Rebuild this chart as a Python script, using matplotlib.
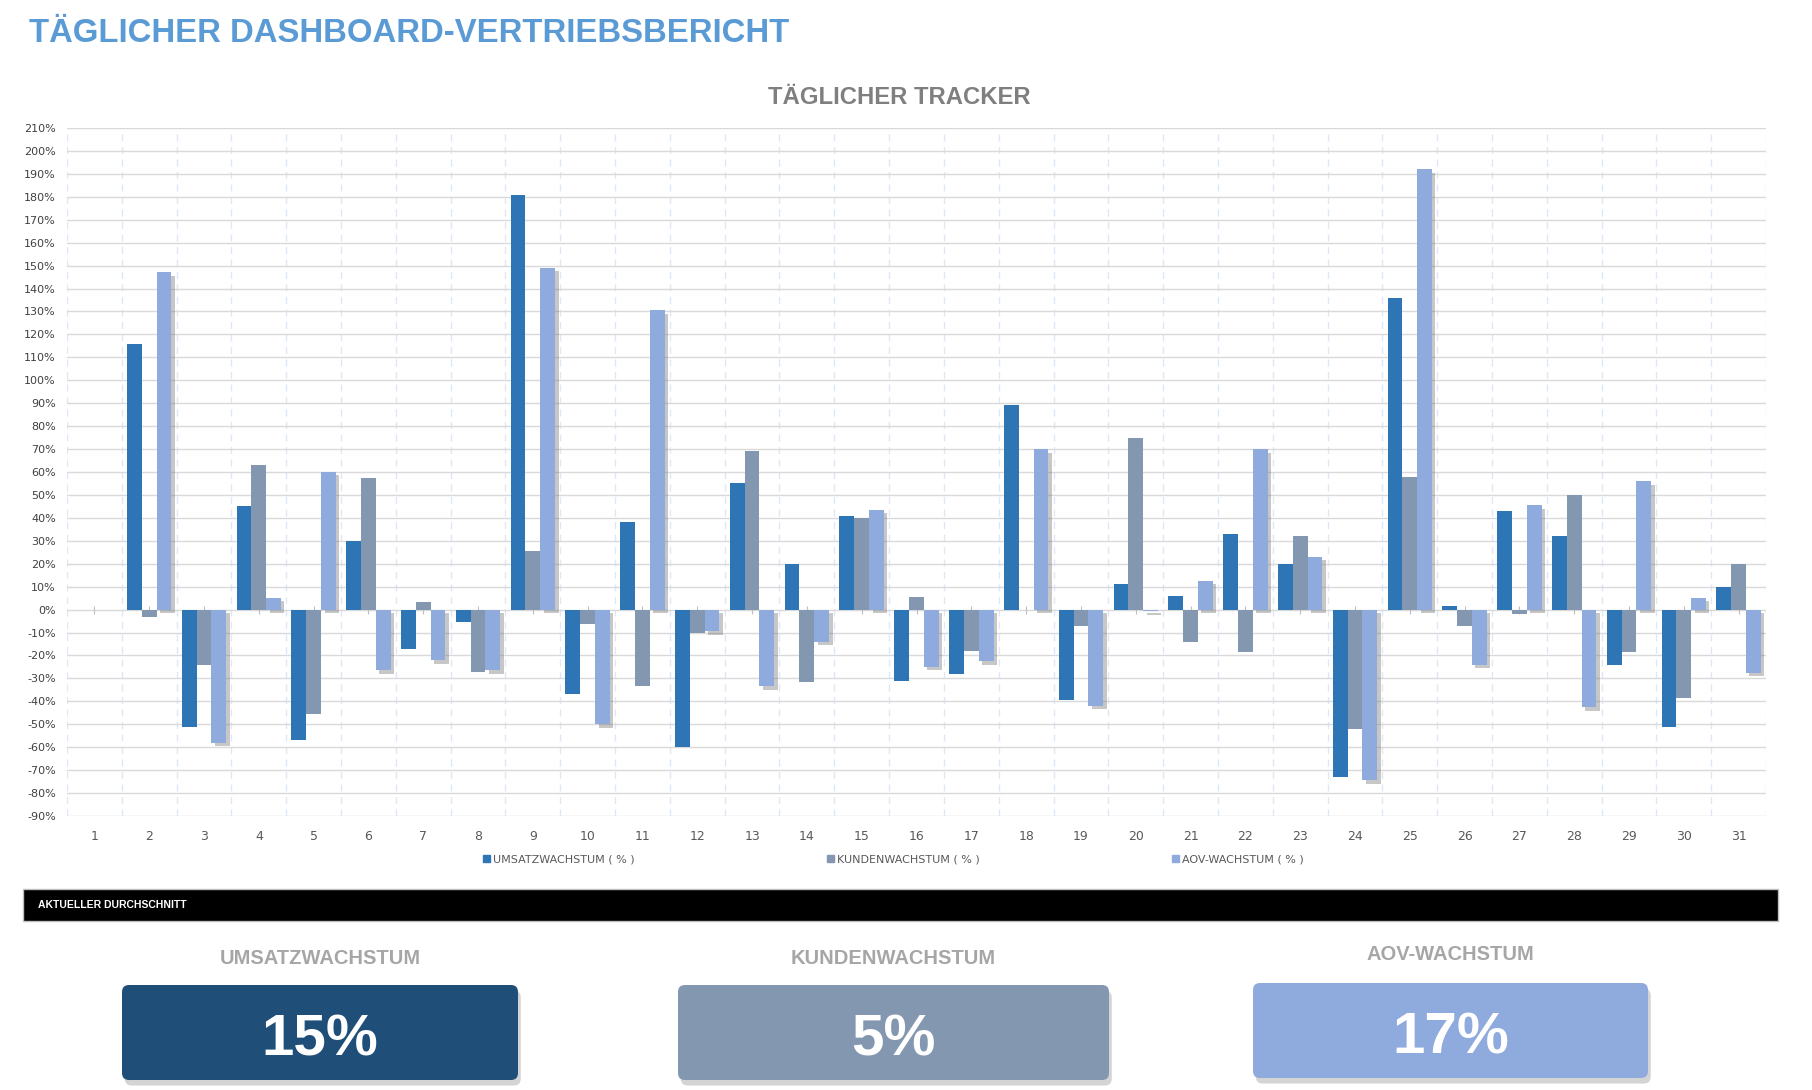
import matplotlib
matplotlib.use("Agg")
import matplotlib.pyplot as plt
from matplotlib.patches import Patch, FancyBboxPatch, Rectangle
from matplotlib import patheffects as pe
import numpy as np

# ---- data (growth in %) ----
days = list(range(1, 32))
umsatz = [0, 116, -51, 45, -57, 30, -17, -5.5, 181, -37, 38, -60, 55, 20, 41, -31,
          -28, 89, -39.5, 11, 6, 33, 20, -73, 136, 1.7, 43, 32, -24, -51, 10]
kunden = [0, -3.3, -24, 63, -45.5, 57.5, 3.5, -27, 25.5, -6.4, -33.5, -10, 69, -31.5, 40, 5.7,
          -18, 0, -7, 75, -14, -18.5, 32, -52, 58, -7, -2, 50, -18.5, -38.5, 20]
aov = [0, 147, -58, 5.2, 60, -26.5, -22, -26.5, 149, -50, 130.5, -9.5, -33.5, -14, 43.5, -25,
       -22.5, 70, -42, -0.7, 12.5, 70, 23, -74.5, 192, -24, 45.5, -42.5, 56, 5.2, -27.5]
series_names = ["UMSATZWACHSTUM ( % )", "KUNDENWACHSTUM ( % )", "AOV-WACHSTUM ( % )"]
kpi_names = ["UMSATZWACHSTUM", "KUNDENWACHSTUM", "AOV-WACHSTUM"]
kpi_values = [15, 5, 17]

COLS = ["#2E75B6", "#8497B0", "#8FAADC"]
KPI_COLS = ["#1F4E79", "#8497B0", "#8FAADC"]
HEAD = ["Liberation Sans", "DejaVu Sans"]
W, H = 1812, 1090

fig = plt.figure(figsize=(W / 100, H / 100), dpi=100)
fig.patch.set_facecolor("white")

# ---- overlay in pixel coords for titles / band / cards ----
ov = fig.add_axes([0, 0, 1, 1], zorder=0)
ov.set_xlim(0, W); ov.set_ylim(H, 0); ov.axis("off")

ov.text(29, 34, "TÄGLICHER DASHBOARD-VERTRIEBSBERICHT", fontsize=23.7, fontweight="bold",
        color="#5B9BD5", ha="left", va="center", family=HEAD)
ov.text(899, 98, "TÄGLICHER TRACKER", fontsize=17.2, fontweight="bold",
        color="#7F7F7F", ha="center", va="center", family=HEAD)

# ---- chart ----
ax = fig.add_axes([67 / W, 1 - 816 / H, (1766 - 67) / W, (816 - 128) / H], zorder=1)
ax.patch.set_alpha(0)
x = np.array(days, dtype=float)
bw = 0.27
for i, (vals, c) in enumerate(zip([umsatz, kunden, aov], COLS)):
    bars = ax.bar(x + (i - 1) * bw, vals, width=bw, color=c, zorder=3, label=series_names[i])
    if i == 2:
        for b in bars:
            b.set_path_effects([pe.SimplePatchShadow(offset=(2.5, -2.5), shadow_rgbFace="0.45",
                                                     alpha=0.4), pe.Normal()])
ax.plot(x, np.zeros_like(x), ls="none", marker="|", ms=6, mew=0.8, color="#BFBFBF", zorder=2)

ax.set_xlim(0.5, 31.5)
ax.set_ylim(-90, 210)
yt = np.arange(-90, 211, 10)
ax.set_yticks(yt)
ax.set_yticklabels([f"{v}%" for v in yt], fontsize=8, color="#404040")
ax.set_xticks(x)
ax.set_xticklabels([str(d) for d in days], fontsize=9, color="#595959")
ax.set_xticks(np.arange(0.5, 32, 1), minor=True)
ax.tick_params(axis="both", which="both", length=0)
ax.tick_params(axis="x", pad=10)
ax.tick_params(axis="y", pad=8)
ax.grid(axis="y", which="major", color="#D9D9D9", lw=1, zorder=1)
ax.grid(axis="x", which="minor", color="#DCE8F5", lw=1, ls=(0, (5, 4)), zorder=1)
for s in ax.spines.values():
    s.set_visible(False)

fig.legend(handles=[Patch(color=c, label=n) for c, n in zip(COLS, series_names)],
           loc="center", bbox_to_anchor=(0.493, 1 - 859 / H), ncol=3, frameon=False,
           fontsize=8, labelcolor="#595959", handlelength=0.6, handleheight=0.6,
           handletextpad=0.3, columnspacing=17.3)

# ---- band ----
ov.add_patch(Rectangle((23, 889), 1755, 32, facecolor="black", edgecolor="#BFBFBF", lw=1))
ov.text(38, 905, "AKTUELLER DURCHSCHNITT", fontsize=7.5, fontweight="bold", color="white",
        ha="left", va="center", family=HEAD)

# ---- KPI cards ----
cards = [(122, 985, 396, 95), (678, 985, 431, 95), (1253, 983, 395, 95)]
label_y = [959, 959, 955]
for (cx, cy, cw, ch), name, val, col, ly in zip(cards, kpi_names, kpi_values, KPI_COLS, label_y):
    ov.text(cx + cw / 2, ly, name, fontsize=14.5, fontweight="bold", color="#A6A6A6",
            ha="center", va="center", family=HEAD)
    box = FancyBboxPatch((cx, cy), cw, ch, boxstyle="round,pad=0,rounding_size=7",
                         facecolor=col, edgecolor="none")
    box.set_path_effects([pe.SimplePatchShadow(offset=(2, -4), shadow_rgbFace="0.45", alpha=0.3),
                          pe.Normal()])
    ov.add_patch(box)
    ov.text(cx + cw / 2, cy + ch / 2 + 8, f"{val}%", fontsize=42, fontweight="bold",
            color="white", ha="center", va="center", family=HEAD)

fig.savefig("out.png", dpi=100, facecolor="white")
